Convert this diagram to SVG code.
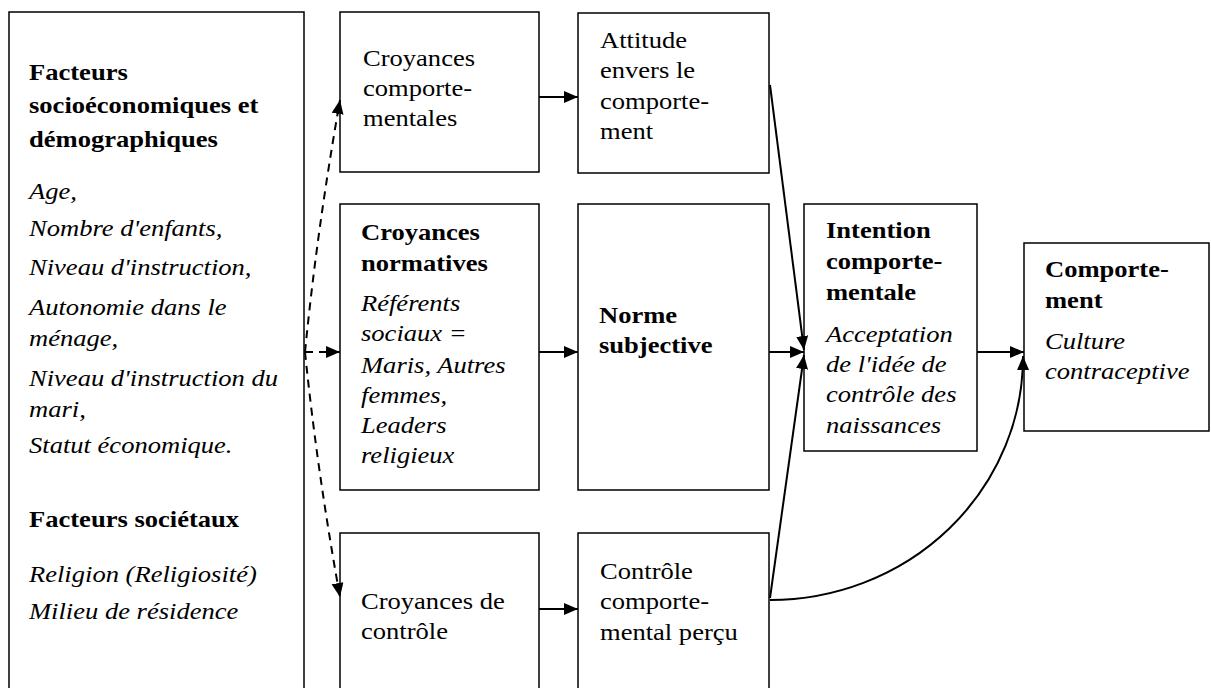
<svg xmlns="http://www.w3.org/2000/svg" width="1211" height="688" viewBox="0 0 1211 688">
<defs>
<style>
.box{fill:#fff;stroke:#000;stroke-width:1.5}
.t{font-family:"Liberation Serif","Times New Roman",serif;font-size:23px;fill:#000}
.b{font-weight:bold}
.i{font-style:italic}
.c{fill:none;stroke:#000;stroke-width:2}
.d{fill:none;stroke:#000;stroke-width:2;stroke-dasharray:8 6}
</style>
<marker id="ah" markerUnits="userSpaceOnUse" markerWidth="15" markerHeight="13" refX="14" refY="6" orient="auto">
<path d="M0,0 L14,6 L0,12 z" fill="#000"/>
</marker>
</defs>
<rect width="1211" height="688" fill="#fff"/>

<g id="facteurs">
<rect class="box" x="9" y="12" width="295" height="690"/>
<text class="t" transform="translate(29,80) scale(1.155,1)">
<tspan class="b" x="0" y="0">Facteurs</tspan>
<tspan class="b" x="0" y="33">socioéconomiques et</tspan>
<tspan class="b" x="0" y="67">démographiques</tspan>
<tspan class="i" x="0" y="119">Age,</tspan>
<tspan class="i" x="0" y="156">Nombre d'enfants,</tspan>
<tspan class="i" x="0" y="195">Niveau d'instruction,</tspan>
<tspan class="i" x="0" y="235">Autonomie dans le</tspan>
<tspan class="i" x="0" y="266">ménage,</tspan>
<tspan class="i" x="0" y="306">Niveau d'instruction du</tspan>
<tspan class="i" x="0" y="337">mari,</tspan>
<tspan class="i" x="0" y="373">Statut économique.</tspan>
<tspan class="b" x="0" y="447">Facteurs sociétaux</tspan>
<tspan class="i" x="0" y="502">Religion (Religiosité)</tspan>
<tspan class="i" x="0" y="539">Milieu de résidence</tspan>
</text>
</g>

<g id="croyances-comportementales">
<rect class="box" x="340" y="12" width="199" height="160"/>
<text class="t" transform="translate(363,66) scale(1.155,1)">
<tspan x="0" y="0">Croyances</tspan>
<tspan x="0" y="30">comporte-</tspan>
<tspan x="0" y="60">mentales</tspan>
</text>
</g>

<g id="attitude">
<rect class="box" x="578" y="13" width="191" height="160"/>
<text class="t" transform="translate(600,48) scale(1.155,1)">
<tspan x="0" y="0">Attitude</tspan>
<tspan x="0" y="30.5">envers le</tspan>
<tspan x="0" y="61">comporte-</tspan>
<tspan x="0" y="91.5">ment</tspan>
</text>
</g>

<g id="croyances-normatives">
<rect class="box" x="340" y="204" width="199" height="286"/>
<text class="t" transform="translate(361,240) scale(1.155,1)">
<tspan class="b" x="0" y="0">Croyances</tspan>
<tspan class="b" x="0" y="31">normatives</tspan>
<tspan class="i" x="0" y="71">Référents</tspan>
<tspan class="i" x="0" y="101">sociaux =</tspan>
<tspan class="i" x="0" y="133">Maris, Autres</tspan>
<tspan class="i" x="0" y="163">femmes,</tspan>
<tspan class="i" x="0" y="193">Leaders</tspan>
<tspan class="i" x="0" y="223">religieux</tspan>
</text>
</g>

<g id="norme-subjective">
<rect class="box" x="578" y="204" width="191" height="286"/>
<text class="t b" transform="translate(599,323) scale(1.155,1)">
<tspan x="0" y="0">Norme</tspan>
<tspan x="0" y="30">subjective</tspan>
</text>
</g>

<g id="intention">
<rect class="box" x="804" y="204" width="173" height="247"/>
<text class="t" transform="translate(826,238) scale(1.155,1)">
<tspan class="b" x="0" y="0">Intention</tspan>
<tspan class="b" x="0" y="31">comporte-</tspan>
<tspan class="b" x="0" y="62">mentale</tspan>
<tspan class="i" x="0" y="104">Acceptation</tspan>
<tspan class="i" x="0" y="134">de l'idée de</tspan>
<tspan class="i" x="0" y="164">contrôle des</tspan>
<tspan class="i" x="0" y="195">naissances</tspan>
</text>
</g>

<g id="comportement">
<rect class="box" x="1024" y="243" width="185" height="188"/>
<text class="t" transform="translate(1045,277) scale(1.155,1)">
<tspan class="b" x="0" y="0">Comporte-</tspan>
<tspan class="b" x="0" y="31">ment</tspan>
<tspan class="i" x="0" y="72">Culture</tspan>
<tspan class="i" x="0" y="102">contraceptive</tspan>
</text>
</g>

<g id="croyances-controle">
<rect class="box" x="340" y="533" width="199" height="170"/>
<text class="t" transform="translate(361,609) scale(1.155,1)">
<tspan x="0" y="0">Croyances de</tspan>
<tspan x="0" y="30">contrôle</tspan>
</text>
</g>

<g id="controle-percu">
<rect class="box" x="578" y="533" width="191" height="170"/>
<text class="t" transform="translate(600,579) scale(1.155,1)">
<tspan x="0" y="0">Contrôle</tspan>
<tspan x="0" y="30.5">comporte-</tspan>
<tspan x="0" y="61">mental perçu</tspan>
</text>
</g>

<g id="connectors">
<path class="d" d="M305,352 Q317,230 340,100" marker-end="url(#ah)"/>
<path class="d" d="M305,352 L340,352" marker-end="url(#ah)"/>
<path class="d" d="M305,352 Q317,470 340,597" marker-end="url(#ah)"/>
<path class="c" d="M539,97 L578,97" marker-end="url(#ah)"/>
<path class="c" d="M539,352 L578,352" marker-end="url(#ah)"/>
<path class="c" d="M539,609 L578,609" marker-end="url(#ah)"/>
<path class="c" d="M770,85 L804,350" marker-end="url(#ah)"/>
<path class="c" d="M769,352 L804,352" marker-end="url(#ah)"/>
<path class="c" d="M770,598 L804,355" marker-end="url(#ah)"/>
<path class="c" d="M977,352 L1024,352" marker-end="url(#ah)"/>
<path class="c" d="M770,600 A253,243 0 0 0 1023,356" marker-end="url(#ah)"/>
</g>
</svg>
